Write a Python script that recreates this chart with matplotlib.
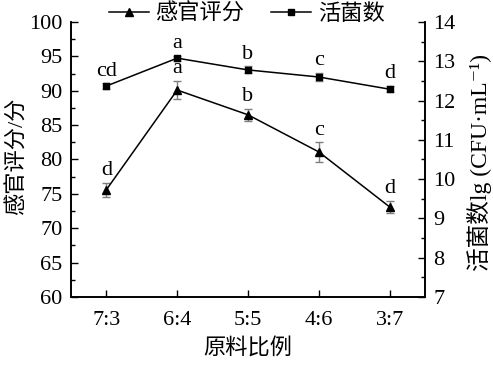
import numpy as np
import matplotlib.pyplot as plt

plt.rcParams['font.family'] = ['Liberation Serif', 'Noto Sans CJK SC', 'DejaVu Serif']

#---------data-----------
ratios = ['7:3', '6:4', '5:5', '4:6', '3:7']
score = [75.6, 90.1, 86.5, 81.1, 73.1]
score_err = [1.0, 1.3, 0.9, 1.4, 0.9]
score_sig = ['d', 'a', 'b', 'c', 'd']
count = [12.37, 13.08, 12.78, 12.60, 12.29]
count_err = [0.07, 0.06, 0.09, 0.11, 0.08]
count_sig = ['cd', 'a', 'b', 'c', 'd']

x = np.arange(1, len(ratios) + 1)
cjk = ['Liberation Serif', 'Noto Sans CJK SC', 'DejaVu Serif']

fig = plt.figure(figsize=(4.93, 3.67), dpi=100)
ax = fig.add_axes([0.144, 0.191, 0.718, 0.749])
ax2 = ax.twinx()

#---------sensory score (left axis)-----------
ax.errorbar(x, score, yerr=score_err, fmt='none', ecolor='#7f7f7f', elinewidth=1, capsize=3, capthick=1)
l1, = ax.plot(x, score, color='black', lw=1.1, marker='^', ms=6, label='感官评分')
for xi, v, e, s in zip(x, score, score_err, score_sig):
  ax.annotate(s, (xi, v + e), xytext=(0, 2), textcoords='offset points', ha='center', va='bottom', fontsize=16)

#---------viable count (right axis)-----------
ax2.errorbar(x, count, yerr=count_err, fmt='none', ecolor='#7f7f7f', elinewidth=1, capsize=3, capthick=1)
l2, = ax2.plot(x, count, color='black', lw=1.1, marker='s', ms=5, label='活菌数')
for xi, v, e, s in zip(x, count, count_err, count_sig):
  ax2.annotate(s, (xi, v + e), xytext=(0, 2), textcoords='offset points', ha='center', va='bottom', fontsize=16)

ax.set_xlim(0.5, 5.5)
ax.set_ylim(60, 100)
ax2.set_ylim(7, 14)
ax.set_xticks(x)
ax.set_xticklabels(ratios)
ax.set_yticks(np.arange(60, 101, 5))
ax.set_yticks(np.arange(60, 101, 2.5), minor=True)
ax2.set_yticks(np.arange(7, 15, 1))
ax2.set_yticks(np.arange(7, 14.1, 0.5), minor=True)

for a in (ax, ax2):
  a.spines['top'].set_visible(False)
  for sp in a.spines.values():
    sp.set_linewidth(1.2)
ax.tick_params(axis='both', which='major', direction='in', length=5, width=1, labelsize=16)
ax.tick_params(axis='y', which='minor', direction='in', length=3, width=1)
ax.tick_params(axis='x', which='major', pad=10)
ax.tick_params(axis='y', which='major', pad=6)
ax2.tick_params(axis='y', which='major', direction='in', length=5, width=1, labelsize=16, pad=6)
ax2.tick_params(axis='y', which='minor', direction='in', length=3, width=1)

ax.set_xlabel('原料比例', fontsize=16, family=cjk, labelpad=6)
ax.set_ylabel('感官评分/分', fontsize=16, family=cjk)
ax.yaxis.set_label_coords(-0.122, 0.51)
ax2.set_ylabel('活菌数lg (CFU·mL⁻¹)', fontsize=17, family=cjk)
ax2.yaxis.set_label_coords(1.12, 0.49)

fig.legend(handles=[l1, l2], loc='upper center', bbox_to_anchor=(0.5, 1.045), ncol=2, frameon=False,
           handlelength=1.8, handletextpad=0.3, columnspacing=1.2, prop={'family': cjk, 'size': 16})

plt.savefig('out.png', dpi=100)
